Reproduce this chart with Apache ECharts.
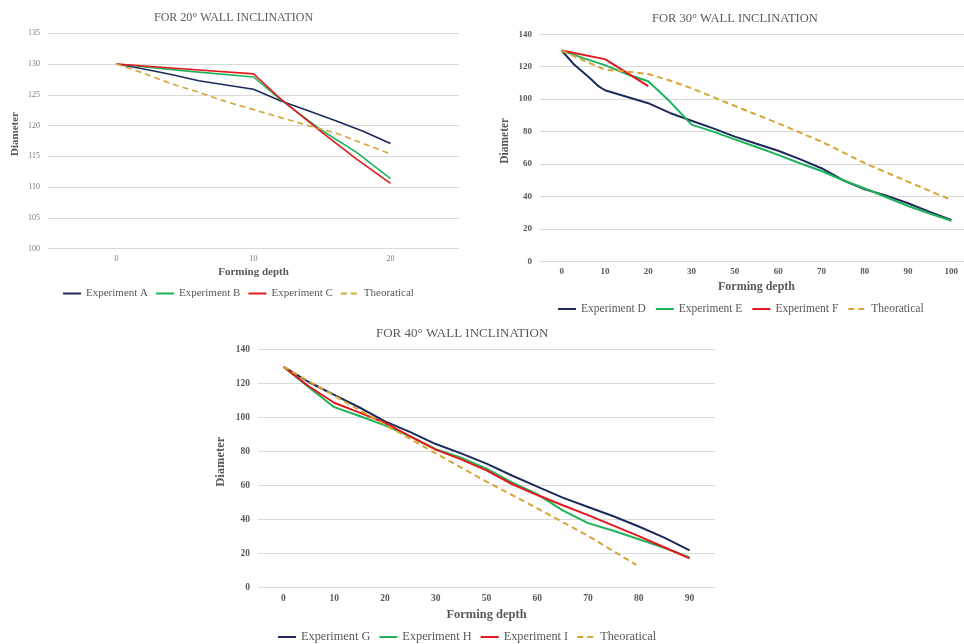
<!DOCTYPE html>
<html>
<head>
<meta charset="utf-8">
<script src="https://cdn.jsdelivr.net/npm/echarts@6/dist/echarts.min.js"></script>
<style>
  html, body { margin: 0; padding: 0; background: #fff; }
  #main { width: 964px; height: 644px; }
</style>
</head>
<body>
<div id="main"></div>
<script>
// x positions are measured along the category axis (1 = one label step)
var ticks20 = ["0", "10", "20"];
var ticks30 = ["0", "10", "20", "30", "50", "60", "70", "80", "90", "100"];
var ticks40 = ["0", "10", "20", "30", "50", "60", "70", "80", "90"];

// 20° wall inclination
var expA = [[0, 130], [0.2, 129.2], [0.4, 128.3], [0.6, 127.3], [0.8, 126.6], [1, 125.9], [1.2, 124.0], [1.4, 122.4], [1.6, 120.8], [1.8, 119.1], [2, 117.1]];
var expB = [[0, 130], [0.5, 128.9], [1, 127.9], [1.2, 124.2], [1.5, 119.2], [1.75, 115.7], [2, 111.4]];
var expC = [[0, 130], [0.5, 129.2], [1, 128.4], [1.2, 124.3], [1.5, 118.9], [1.75, 114.6], [2, 110.6]];
var theo20 = [[0, 130], [0.2, 128.5], [0.4, 126.8], [0.6, 125.4], [0.8, 123.9], [1, 122.6], [1.2, 121.3], [1.4, 120.0], [1.6, 118.8], [1.8, 117.1], [2, 115.4]];

// 30° wall inclination
var expD = [[0, 130], [0.3, 121], [0.65, 113], [0.85, 108], [1, 105.5], [1.5, 101.5], [2, 97.5], [2.5, 91.5], [3, 86.7], [3.5, 82], [4, 76.9], [4.5, 72.5], [5, 68.2], [5.5, 63], [6, 57.4], [6.5, 50], [7, 44.4], [7.5, 40.5], [8, 35.8], [8.5, 30.5], [9, 25.5]];
var expE = [[0, 130], [0.5, 125.3], [1, 121], [1.5, 115.5], [2, 111], [2.5, 98.5], [3, 84.3], [3.5, 80], [4, 75.2], [4.5, 70.5], [5, 65.6], [5.5, 60.5], [6, 55.7], [6.5, 50], [7, 44.9], [7.5, 39.5], [8, 34.1], [8.5, 29.5], [9, 25]];
var expF = [[0, 130], [1, 124.7], [2, 108]];
var theo30 = [[0, 130], [0.5, 124], [1, 118.2], [1.5, 117], [2, 115.5], [2.5, 111.5], [3, 106.7], [4, 95.8], [5, 85.1], [6, 73.8], [7, 60.5], [8, 49.1], [9, 37.8]];

// 40° wall inclination
var expG = [[0, 130], [0.5, 121], [1, 113.4], [1.5, 106], [2, 97.8], [2.5, 91.5], [3, 84.5], [3.5, 79], [4, 73], [4.5, 66], [5, 59.5], [5.5, 53], [6, 47.5], [6.5, 42], [7, 36], [7.5, 29.5], [8, 22]];
var expH = [[0, 130], [0.5, 118], [1, 106.2], [1.5, 101], [2, 95.5], [2.5, 89], [3, 81.5], [3.5, 76.5], [4, 70], [4.5, 62], [5, 55], [5.5, 45.5], [6, 38], [6.5, 33.5], [7, 28.5], [7.5, 23.5], [8, 17.8]];
var expI = [[0, 130], [0.5, 118.5], [1, 108.8], [1.5, 103], [2, 97], [2.5, 89], [3, 81.2], [3.5, 75.5], [4, 69], [4.5, 61], [5, 54.5], [5.5, 48.5], [6, 42.7], [6.5, 36.5], [7, 30.3], [7.5, 23.8], [8, 17.2]];
var theo40 = [[0, 130], [1, 113], [2, 96], [3, 79], [4, 62.4], [5, 46.7], [6, 30.5], [6.95, 13.4]];

var FONT = "Liberation Serif";
var BLUE = "#1c2a5c", GREEN = "#1db35a", RED = "#e3191c", GOLD = "#d6a534";

var chart = echarts.init(document.getElementById("main"));

function xAxisFor(idx, ticks, fs, bold, gap, color) {
  return {
    type: "value", gridIndex: idx,
    min: -0.5, max: ticks.length - 0.5, interval: 0.5,
    axisLine: { show: false }, axisTick: { show: false }, splitLine: { show: false },
    axisLabel: {
      fontFamily: FONT, fontSize: fs, fontWeight: bold ? "bold" : "normal", color: color, margin: 6,
      formatter: function (v) { return Number.isInteger(v) && v >= 0 ? ticks[v] : ""; }
    },
    name: "Forming depth", nameLocation: "middle", nameGap: gap,
    nameTextStyle: { fontFamily: FONT, fontWeight: "bold", fontSize: fs + 3, color: "#595959" }
  };
}
function yAxisFor(idx, min, max, step, fs, bold, gap, nfs, color) {
  return {
    type: "value", gridIndex: idx, min: min, max: max, interval: step,
    axisLine: { show: false }, axisTick: { show: false },
    splitLine: { lineStyle: { color: "#d9d9d9", width: 1 } },
    axisLabel: { fontFamily: FONT, fontSize: fs, fontWeight: bold ? "bold" : "normal", color: color, margin: 8 },
    name: "Diameter", nameLocation: "middle", nameGap: gap, nameRotate: 90,
    nameTextStyle: { fontFamily: FONT, fontWeight: "bold", fontSize: nfs, color: "#595959", padding: [0, 0, 0, 14] }
  };
}
function line(name, data, idx, color, dashed, w) {
  return {
    name: name, type: "line", xAxisIndex: idx, yAxisIndex: idx, data: data,
    symbol: "none", smooth: false, animation: false,
    lineStyle: { color: color, width: w, type: dashed ? [6, 4] : "solid" },
    itemStyle: { color: color }
  };
}
function legendFor(names, left, top, fs, gap) {
  return {
    data: names, left: left, top: top, padding: 0, itemWidth: 18, itemHeight: 10, itemGap: gap,
    itemStyle: { opacity: 0 },
    textStyle: { fontFamily: FONT, fontSize: fs, color: "#595959" }
  };
}
function titleFor(text, left, top, fs) {
  return { text: text, left: left, top: top, padding: 0, textStyle: { fontFamily: FONT, fontSize: fs, fontWeight: "normal", color: "#595959" } };
}

var option = {
  backgroundColor: "#fff",
  animation: false,
  title: [
    titleFor("FOR 20° WALL INCLINATION", 154, 12, 12),
    titleFor("FOR 30° WALL INCLINATION", 652, 12, 12.5),
    titleFor("FOR 40° WALL INCLINATION", 376, 327, 13)
  ],
  legend: [
    legendFor(["Experiment A", "Experiment B", "Experiment C", "Theoratical"], 62, 288, 11, 7),
    legendFor(["Experiment D", "Experiment E", "Experiment F", "Theoratical"], 557, 303, 11.5, 9),
    legendFor(["Experiment G", "Experiment H", "Experiment I", "Theoratical"], 277, 631, 12.3, 8)
  ],
  grid: [
    { left: 48, top: 33.3, width: 411, height: 215.4, outerBoundsMode: "none" },
    { left: 540, top: 34.3, width: 433, height: 227, outerBoundsMode: "none" },
    { left: 258, top: 349.7, width: 457, height: 238, outerBoundsMode: "none" }
  ],
  xAxis: [
    xAxisFor(0, ticks20, 8, false, 18, "#7a7a7a"),
    xAxisFor(1, ticks30, 9, true, 20, "#595959"),
    xAxisFor(2, ticks40, 9.5, true, 21, "#595959")
  ],
  yAxis: [
    yAxisFor(0, 100, 135, 5, 8, false, 27, 11, "#7a7a7a"),
    yAxisFor(1, 0, 140, 20, 9, true, 29, 11.5, "#595959"),
    yAxisFor(2, 0, 140, 20, 9.5, true, 31, 12.5, "#595959")
  ],
  series: [
    line("Experiment A", expA, 0, BLUE, false, 1.6),
    line("Experiment B", expB, 0, GREEN, false, 1.6),
    line("Experiment C", expC, 0, RED, false, 1.6),
    line("Theoratical", theo20, 0, GOLD, true, 1.6),
    line("Experiment D", expD, 1, BLUE, false, 2),
    line("Experiment E", expE, 1, GREEN, false, 2),
    line("Experiment F", expF, 1, RED, false, 2),
    line("Theoratical", theo30, 1, GOLD, true, 2),
    line("Experiment G", expG, 2, BLUE, false, 2),
    line("Experiment H", expH, 2, GREEN, false, 2),
    line("Experiment I", expI, 2, RED, false, 2),
    line("Theoratical", theo40, 2, GOLD, true, 2)
  ]
};

chart.setOption(option);
</script>
</body>
</html>
